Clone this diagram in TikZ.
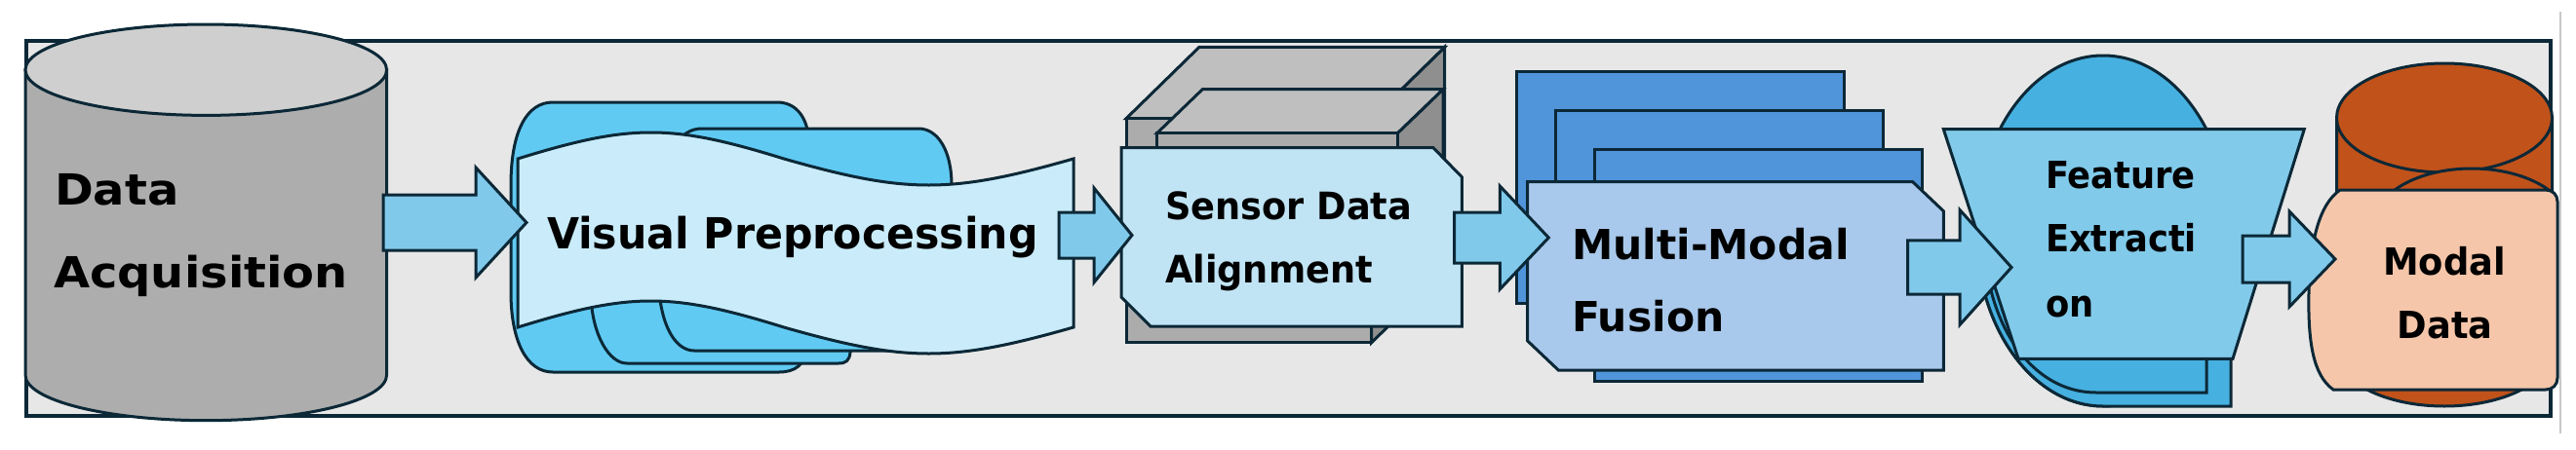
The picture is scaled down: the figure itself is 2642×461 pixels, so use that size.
\documentclass[tikz,border=0pt]{standalone}
\usepackage{fontspec}
\usepackage{graphicx}
\setmainfont{DejaVu Sans}
\usetikzlibrary{calc}
\definecolor{navy}{RGB}{12,40,55}
\definecolor{framefill}{RGB}{231,231,231}
\definecolor{sidegray}{RGB}{200,200,200}
\definecolor{cylbody}{RGB}{173,173,173}
\definecolor{cyltop}{RGB}{207,207,207}
\definecolor{arrowc}{RGB}{128,201,234}
\definecolor{wavefront}{RGB}{202,236,250}
\definecolor{waveback}{RGB}{96,202,242}
\definecolor{sensfront}{RGB}{193,228,244}
\definecolor{cubefront}{RGB}{172,172,172}
\definecolor{cubetop}{RGB}{191,191,191}
\definecolor{cubeside}{RGB}{143,143,143}
\definecolor{mmback}{RGB}{80,148,217}
\definecolor{mmfront}{RGB}{168,201,236}
\definecolor{feback}{RGB}{70,176,224}
\definecolor{fefront}{RGB}{129,202,234}
\definecolor{orangec}{RGB}{192,82,26}
\definecolor{peach}{RGB}{245,198,170}
\tikzset{
  outl/.style={draw=navy, line width=3pt, line join=miter},
  arrowsty/.style={draw=navy, line width=3pt, fill=arrowc, line join=miter},
  lbl/.style={inner sep=0pt, outer sep=0pt, text=black, anchor=base west},
  lblc/.style={inner sep=0pt, outer sep=0pt, text=black, anchor=base},
}
\newcommand{\blockarrow}[5]{%
  \filldraw[arrowsty] let \p1=(#1), \p2=(#2) in
  (\x1,\y1+#3) -- (\x2-#5,\y1+#3) -- (\x2-#5,\y1+#4) -- (\x2,\y1) --
  (\x2-#5,\y1-#4) -- (\x2-#5,\y1-#3) -- (\x1,\y1-#3) -- cycle;}
\begin{document}
\begin{tikzpicture}[x=1pt,y=-1pt]
\useasboundingbox (0,0) rectangle (2642,461);
\fill[white] (0,0) rectangle (2642,461);
% side line and frame
\draw[line width=2.5pt, color=sidegray] (2626,12) -- (2626,445);
\filldraw[fill=framefill, draw=navy, line width=4pt] (27,41.5) rectangle (2616,426.5);

% ---------- Data Acquisition cylinder
\filldraw[outl, fill=cylbody] (26,71.7) -- (26,385)
  .. controls (26,410.8) and (109,431.7) .. (211.3,431.7)
  .. controls (313.6,431.7) and (396.6,410.8) .. (396.6,385) -- (396.6,71.7) -- cycle;
\filldraw[outl, fill=cyltop] (211.3,71.7) ellipse [x radius=185.3pt, y radius=46.7pt];

% ---------- Visual Preprocessing (back copies)
\filldraw[outl, fill=waveback] (567,105) -- (797,105)
  .. controls (815,105) and (826,118) .. (829,138) -- (829,355)
  .. controls (826,375) and (815,382) .. (799,382) -- (567,382)
  .. controls (540,382) and (524,350) .. (524,300) -- (524,190)
  .. controls (524,135) and (540,105) .. (567,105) -- cycle;
\filldraw[outl, fill=waveback] (720,132) -- (942,132)
  .. controls (962,132) and (976,155) .. (976,190) -- (976,250) -- (875,340) -- (872,362)
  .. controls (871,370) and (868,373) .. (860,373) -- (643,373)
  .. controls (625,373) and (608,345) .. (606,305) -- (690,150)
  .. controls (700,138) and (708,132) .. (720,132) -- cycle;
\filldraw[outl, fill=waveback] (700,250) -- (955,250) -- (955,345)
  .. controls (955,355) and (950,360) .. (940,360) -- (712,360)
  .. controls (695,360) and (680,340) .. (676,300) -- cycle;
% front tape
\filldraw[outl, fill=wavefront] (531,163)
  .. controls (646.9,127) and (688.1,127) .. (804,163)
  .. controls (930,199) and (975,199) .. (1101,163) -- (1101,336)
  .. controls (975,372) and (930,372) .. (804,336)
  .. controls (688.1,300) and (646.9,300) .. (531,336) -- cycle;

% ---------- Sensor Data Alignment
% cuboid 1
\filldraw[outl, fill=cubeside] (1406.7,121.7) -- (1481.7,48.3) -- (1481.7,278.3) -- (1406.7,351.7) -- cycle;
\filldraw[outl, fill=cubetop] (1155,121.7) -- (1230,48.3) -- (1481.7,48.3) -- (1406.7,121.7) -- cycle;
\filldraw[outl, fill=cubefront] (1155,121.7) rectangle (1406.7,351.7);
% cuboid 2
\filldraw[outl, fill=cubeside] (1433.3,136.7) -- (1480,91.7) -- (1480,275) -- (1433.3,320) -- cycle;
\filldraw[outl, fill=cubetop] (1186.7,136.7) -- (1233.3,91.7) -- (1480,91.7) -- (1433.3,136.7) -- cycle;
\filldraw[outl, fill=cubefront] (1186.7,136.7) rectangle (1433.3,320);
% front
\filldraw[outl, fill=sensfront] (1150,151.7) -- (1470,151.7) -- (1499.3,181.7) -- (1499.3,335)
  -- (1180,335) -- (1150,305) -- cycle;

% ---------- Multi-Modal Fusion
\filldraw[outl, fill=mmback] (1555,73.3) rectangle (1891.7,311.7);
\filldraw[outl, fill=mmback] (1595,113.3) rectangle (1931.7,360);
\filldraw[outl, fill=mmback] (1635,153.3) rectangle (1971.7,391.7);
\filldraw[outl, fill=mmfront] (1566.7,186.7) -- (1961.7,186.7) -- (1993.3,216.7) -- (1993.3,380)
  -- (1598.3,380) -- (1566.7,350) -- cycle;

% ---------- Feature Extraction
\filldraw[outl, fill=feback] (2157,237) ellipse [x radius=130pt, y radius=180pt];
\filldraw[outl, fill=feback] (2288,250) -- (2288,417) -- (2157,417)
  .. controls (2085,417) and (2027,336) .. (2027,237) -- cycle;
\filldraw[outl, fill=feback] (2263,250) -- (2263,403) -- (2150,403)
  .. controls (2082,403) and (2035,330) .. (2035,240) -- cycle;
\filldraw[outl, fill=fefront] (1993.3,132.7) -- (2363.3,132.7) -- (2290,368.3) -- (2070,368.3) -- cycle;

% ---------- Modal Data
\filldraw[outl, fill=orangec] (2396.5,121) -- (2396.5,361)
  .. controls (2396.5,391.9) and (2446,417) .. (2507,417)
  .. controls (2568,417) and (2617.5,391.9) .. (2617.5,361) -- (2617.5,121) -- cycle;
\filldraw[outl, fill=orangec] (2507,121) ellipse [x radius=110.5pt, y radius=56pt];
\begin{scope}
  \clip (2380,150) rectangle (2618,300);
  \filldraw[outl, fill=orangec] (2535,230) ellipse [x radius=100pt, y radius=57pt];
\end{scope}
\filldraw[outl, fill=peach] (2400,195) -- (2611,195)
  .. controls (2618,195) and (2623,200) .. (2623,207) -- (2623,388)
  .. controls (2623,395) and (2618,400) .. (2611,400) -- (2393,400)
  .. controls (2372,385) and (2367,350) .. (2368,300)
  .. controls (2369,250) and (2378,210) .. (2400,195) -- cycle;

% ---------- labels
\node[lbl, font=\bfseries\fontsize{44}{44}\selectfont] (da1) at (56,210) {\scalebox{1.09}[1]{Data}};
\node[lbl, font=\bfseries\fontsize{44}{44}\selectfont] (da2) at (55,295) {\scalebox{1.09}[1]{Acquisition}};
\node[lbl, font=\bfseries\fontsize{44}{44}\selectfont] (vp) at (561,255) {\scalebox{0.97}[1]{Visual Preprocessing}};
\node[lbl, font=\bfseries\fontsize{38.8}{38.8}\selectfont] (sd1) at (1195,225) {\scalebox{0.947}[1]{Sensor Data}};
\node[lbl, font=\bfseries\fontsize{38.8}{38.8}\selectfont] (sd2) at (1195,290) {\scalebox{0.947}[1]{Alignment}};
\node[lbl, font=\bfseries\fontsize{42.5}{42.5}\selectfont] (mm1) at (1612,266.7) {Multi-Modal};
\node[lbl, font=\bfseries\fontsize{42.5}{42.5}\selectfont] (mm2) at (1612,340) {Fusion};
\node[lbl, font=\bfseries\fontsize{38.4}{38.4}\selectfont] (fe1) at (2098,193) {\scalebox{0.92}[1]{Feature}};
\node[lbl, font=\bfseries\fontsize{38.4}{38.4}\selectfont] (fe2) at (2098,258) {\scalebox{0.92}[1]{Extracti}};
\node[lbl, font=\bfseries\fontsize{38.4}{38.4}\selectfont] (fe3) at (2098,325) {\scalebox{0.92}[1]{on}};
\node[lblc, font=\bfseries\fontsize{38.4}{38.4}\selectfont] (md1) at (2507,282) {\scalebox{0.96}[1]{Modal}};
\node[lblc, font=\bfseries\fontsize{38.4}{38.4}\selectfont] (md2) at (2507.5,347) {\scalebox{0.96}[1]{Data}};

% ---------- block arrows
\coordinate (a1s) at (393,228.5);   \coordinate (a1e) at (540,228.5);
\coordinate (a2s) at (1086,241.5);  \coordinate (a2e) at (1161,241.5);
\coordinate (a3s) at (1491.7,244);  \coordinate (a3e) at (1588.3,244);
\coordinate (a4s) at (1956.7,274.5);\coordinate (a4e) at (2063,274.5);
\coordinate (a5s) at (2300,266);    \coordinate (a5e) at (2395,266);
\blockarrow{a1s}{a1e}{28.5pt}{56.5pt}{52pt}
\blockarrow{a2s}{a2e}{23.5pt}{48.5pt}{39pt}
\blockarrow{a3s}{a3e}{26pt}{53pt}{50pt}
\blockarrow{a4s}{a4e}{27.7pt}{59pt}{53pt}
\blockarrow{a5s}{a5e}{24pt}{49pt}{47pt}
\end{tikzpicture}
\end{document}
